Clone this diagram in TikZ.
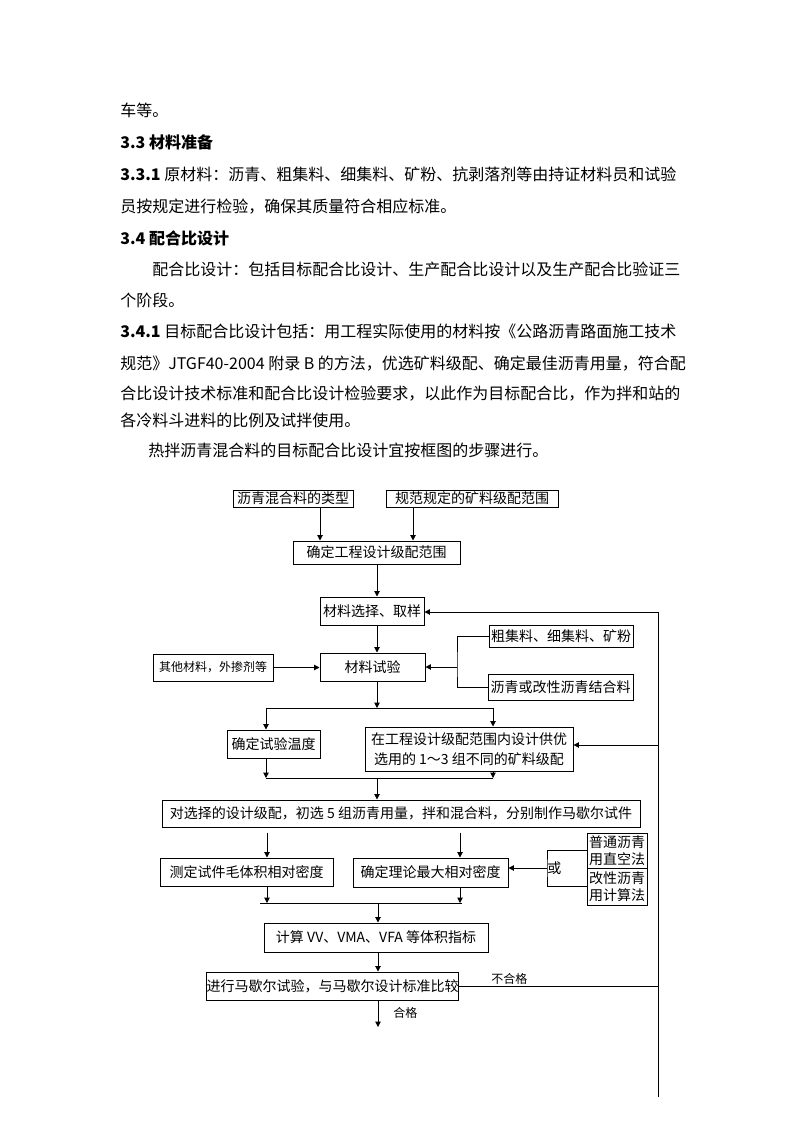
\documentclass[tikz,border=0pt]{standalone}
\usepackage{fontspec}
\setmainfont{Noto Sans CJK SC}
\usetikzlibrary{arrows.meta,calc}
\newcommand\mybox[7][]{\node[box,#1,minimum width={(#4-#2)*0.75pt},minimum height={(#5-#3)*0.75pt}] (#6) at ({(#2+#4)/2},{(#3+#5)/2}) {#7};}
\begin{document}
\begin{tikzpicture}[x=0.75pt,y=-0.75pt,
  box/.style={draw,line width=0.75pt,inner sep=0pt,align=center,font=\fontsize{10.5}{13}\selectfont},
  arr/.style={line width=0.75pt,-{Triangle[length=4pt,width=4pt]}},
  ln/.style={line width=0.75pt},
  lab/.style={inner sep=0pt,font=\fontsize{9}{11}\selectfont},
  para/.style={anchor=base west,inner sep=0pt,font=\fontsize{12}{14}\selectfont}]
\useasboundingbox[fill=white] (0,0) rectangle (794,1123);

% paragraph text
\node[para] (p1) at (120,117) {车等。};
\node[para] (p2) at (120,149) {\textbf{3.3 材料准备}};
\node[para] (p3) at (120,181) {\textbf{3.3.1} 原材料：沥青、粗集料、细集料、矿粉、抗剥落剂等由持证材料员和试验};
\node[para] (p4) at (120,213) {员按规定进行检验，确保其质量符合相应标准。};
\node[para] (p5) at (120,244) {\textbf{3.4 配合比设计}};
\node[para] (p6) at (152,275) {配合比设计：包括目标配合比设计、生产配合比设计以及生产配合比验证三};
\node[para] (p7) at (120,306) {个阶段。};
\node[para] (p8) at (120,337) {\textbf{3.4.1} 目标配合比设计包括：用工程实际使用的材料按《公路沥青路面施工技术};
\node[para] (p9) at (120,369) {规范》JTGF40-2004 附录 B 的方法，优选矿料级配、确定最佳沥青用量，符合配};
\node[para] (p10) at (120,399) {合比设计技术标准和配合比设计检验要求，以此作为目标配合比，作为拌和站的};
\node[para] (p11) at (120,426) {各冷料斗进料的比例及试拌使用。};
\node[para] (p12) at (148,456) {热拌沥青混合料的目标配合比设计宜按框图的步骤进行。};

% boxes
\mybox{233}{490}{353}{507}{type}{沥青混合料的类型}
\mybox{386}{490}{558}{507}{spec}{规范规定的矿料级配范围}
\mybox{293}{541}{460}{564}{range}{确定工程设计级配范围}
\mybox{320}{597}{424}{625}{select}{材料选择、取样}
\mybox{320}{653}{425}{681}{test}{材料试验}
\mybox[font=\fontsize{9}{11}\selectfont]{153}{654}{273}{681}{other}{其他材料，外掺剂等}
\mybox{489}{625}{633}{647}{coarse}{粗集料、细集料、矿粉}
\mybox{488}{674}{633}{700}{binder}{沥青或改性沥青结合料}
\mybox{227}{730}{320}{758}{temp}{确定试验温度}
\mybox[font=\fontsize{10.5}{15}\selectfont]{365}{727}{573}{771}{grad}{在工程设计级配范围内设计供优\\选用的 1～3 组不同的矿料级配}
\mybox{162}{800}{640}{827}{mix}{对选择的设计级配，初选 5 组沥青用量，拌和混合料，分别制作马歇尔试件}
\mybox{160}{858}{333}{886}{bulk}{测定试件毛体积相对密度}
\mybox{353}{858}{508}{887}{maxd}{确定理论最大相对密度}
\mybox{587}{833}{647}{868}{m1}{普通沥青\\用直空法}
\mybox{587}{868}{647}{905}{m2}{改性沥青\\用计算法}
\mybox{264}{923}{488}{952}{vol}{计算 VV、VMA、VFA 等体积指标}
\mybox{207}{972}{458}{1000}{marshall}{进行马歇尔试验，与马歇尔设计标准比较}

% helper coordinates
\coordinate (c320) at (320,0);
\coordinate (c413) at (413,0);
\coordinate (c377) at (377,0);
\coordinate (c267) at (267,0);
\coordinate (c460) at (460,0);
\coordinate (jb) at (457,667);
\coordinate (s1) at (377,708);
\coordinate (s1l) at (266,708);
\coordinate (s1r) at (493,708);
\coordinate (s2) at (377,778);
\coordinate (s2l) at (266,778);
\coordinate (s2r) at (493,778);
\coordinate (jo) at (547,868);
\coordinate (s3) at (378,903);
\coordinate (s3l) at (260,903);
\coordinate (s3r) at (462,903);
\coordinate (endp) at (378,1027);
\coordinate (rr) at (658,986);
\coordinate (rtop) at (658,612);
\coordinate (rbot) at (658,1097);
\coordinate (rmid) at (658,745);

% connectors
\draw[arr] (type.south -| c320) -- (range.north -| c320);
\draw[arr] (spec.south -| c413) -- (range.north -| c413);
\draw[arr] (range.south -| c377) -- (select.north -| c377);
\draw[arr] (select.south -| c377) -- (test.north -| c377);
\draw[arr] (other.east) -- (test.west |- other.east);
\draw[ln] (coarse.west) -| (jb) |- (binder.west);
\draw[arr] (jb) -- (test.east |- jb);
\draw[arr] (test.south -| s1) -- (s1);
\draw[ln] (s1l) -- (s1r);
\draw[arr] (s1l) -- (temp.north -| s1l);
\draw[arr] (s1r) -- (grad.north -| s1r);
\draw[arr] (temp.south -| s2l) -- (s2l);
\draw[arr] (grad.south -| s2r) -- (s2r);
\draw[ln] (s2l) -- (s2r);
\draw[arr] (s2) -- (mix.north -| s2);
\draw[arr,shorten <=3.75pt] (mix.south -| c267) -- (bulk.north -| c267);
\draw[arr,shorten <=3.75pt] (mix.south -| c460) -- (maxd.north -| c460);
\draw[ln] (m1.west) -| (jo) |- (m2.west);
\draw[arr] (jo) -- (maxd.east |- jo);
\node[anchor=west,inner sep=0pt,font=\fontsize{10.5}{13}\selectfont] (or) at (547,868) {或};
\draw[arr] (bulk.south -| c267) -- (s3l -| c267);
\draw[arr] (maxd.south -| c460) -- (s3r -| c460);
\draw[ln] (s3l) -- (s3r);
\draw[arr] (s3) -- (vol.north -| s3);
\draw[arr] (vol.south -| s3) -- (marshall.north -| s3);
\draw[arr] (marshall.south -| s3) -- (endp);
\node[lab,anchor=west] (pass) at (393,1013) {合格};
\draw[ln] (marshall.east |- rr) -- (rr);
\node[lab,anchor=base west] (fail) at (491,983) {不合格};
\draw[ln] (rbot) -- (rtop);
\draw[arr] (rtop) -- (select.east |- rtop);
\draw[arr] (rmid) -- (grad.east |- rmid);
\end{tikzpicture}
\end{document}
